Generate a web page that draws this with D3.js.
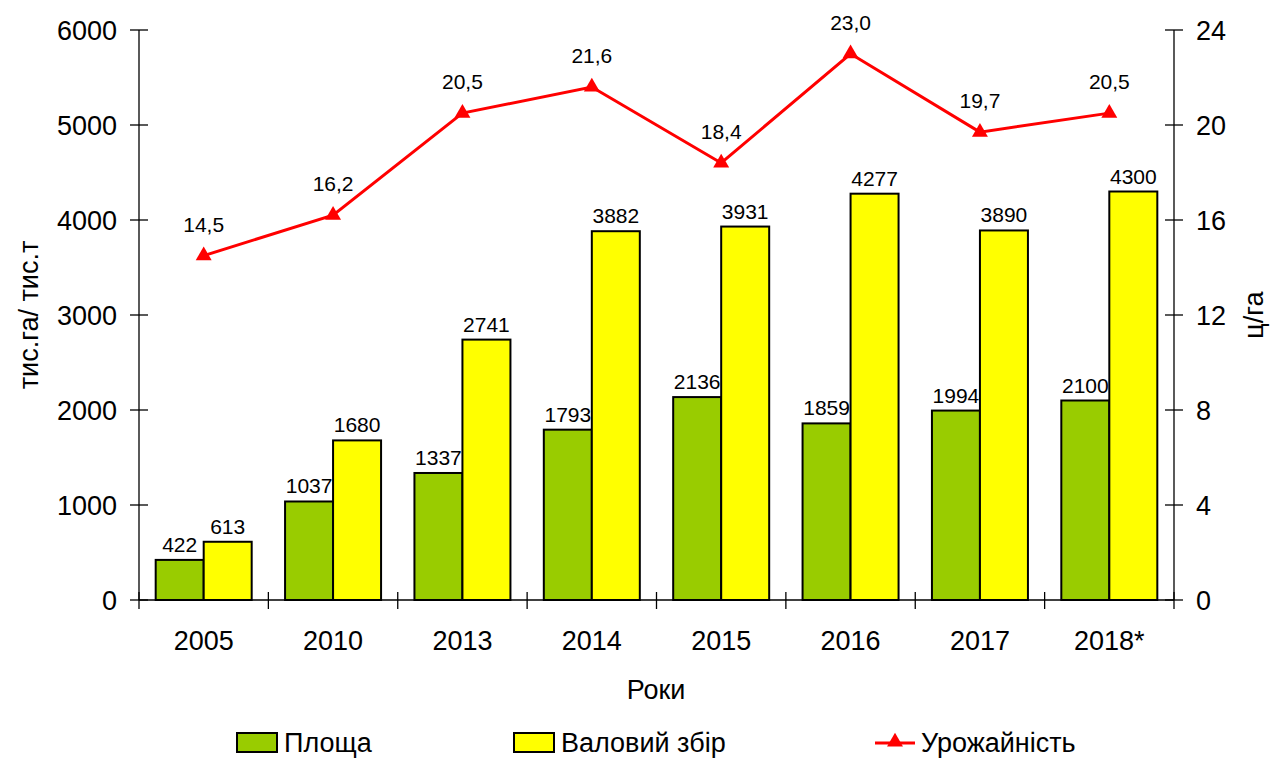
<!DOCTYPE html>
<html>
<head>
<meta charset="utf-8">
<script src="https://cdn.jsdelivr.net/npm/d3@7"></script>
<style>
  body { margin: 0; background: #fff; }
  text { font-family: Arial, "Liberation Sans", sans-serif; fill: #000; }
</style>
</head>
<body>
<div id="chart"></div>
<script>
var years = ['2005', '2010', '2013', '2014', '2015', '2016', '2017', '2018*'];
var area = [422, 1037, 1337, 1793, 2136, 1859, 1994, 2100];
var harvest = [613, 1680, 2741, 3882, 3931, 4277, 3890, 4300];
var yieldVals = [14.5, 16.2, 20.5, 21.6, 18.4, 23.0, 19.7, 20.5];
var leftTicks = [0, 1000, 2000, 3000, 4000, 5000, 6000];
var rightTicks = [0, 4, 8, 12, 16, 20, 24];

var width = 1271, height = 758;
var x0 = 139, x1 = 1174, yTop = 30, yBot = 600;
var green = '#99CC00', yellow = '#FFFF00', red = '#FF0000';

var svg = d3.select('#chart').append('svg')
    .attr('width', width).attr('height', height);

var x = d3.scaleBand().domain(years).range([x0, x1]);
var inner = d3.scaleBand().domain(['a', 'h']).range([0, 96]);
var padIn = (x.bandwidth() - 96) / 2;
var yL = d3.scaleLinear().domain([0, 6000]).range([yBot, yTop]);
var yR = d3.scaleLinear().domain([0, 24]).range([yBot, yTop]);

var fmt = function (v) { return d3.format('.1f')(v).replace('.', ','); };

// bars
var groups = svg.append('g').selectAll('g.year')
    .data(years)
    .enter().append('g')
    .attr('class', 'year')
    .attr('transform', function (d) { return 'translate(' + (x(d) + padIn) + ',0)'; });

groups.append('rect')
    .attr('x', inner('a'))
    .attr('y', function (d, i) { return yL(area[i]); })
    .attr('width', inner.bandwidth())
    .attr('height', function (d, i) { return yBot - yL(area[i]); })
    .style('fill', green).style('stroke', '#000').style('stroke-width', 2);

groups.append('rect')
    .attr('x', inner('h'))
    .attr('y', function (d, i) { return yL(harvest[i]); })
    .attr('width', inner.bandwidth())
    .attr('height', function (d, i) { return yBot - yL(harvest[i]); })
    .style('fill', yellow).style('stroke', '#000').style('stroke-width', 2);

groups.append('text')
    .attr('x', inner('a') + inner.bandwidth() / 2)
    .attr('y', function (d, i) { return yL(area[i]) - 8; })
    .style('text-anchor', 'middle').style('font-size', '21px')
    .text(function (d, i) { return area[i]; });

groups.append('text')
    .attr('x', inner('h') + inner.bandwidth() / 2)
    .attr('y', function (d, i) { return yL(harvest[i]) - 8; })
    .style('text-anchor', 'middle').style('font-size', '21px')
    .text(function (d, i) { return harvest[i]; });

// axes
var axisG = svg.append('g').style('stroke', '#000').style('stroke-width', 1.3);
axisG.append('line').attr('x1', x0).attr('x2', x0).attr('y1', yTop).attr('y2', yBot);
axisG.append('line').attr('x1', x1).attr('x2', x1).attr('y1', yTop).attr('y2', yBot);
axisG.append('line').attr('x1', x0).attr('x2', x1).attr('y1', yBot).attr('y2', yBot);

axisG.selectAll('line.lt').data(leftTicks).enter().append('line')
    .attr('x1', x0 - 9).attr('x2', x0 + 9)
    .attr('y1', function (d) { return yL(d); }).attr('y2', function (d) { return yL(d); });
axisG.selectAll('line.rt').data(rightTicks).enter().append('line')
    .attr('x1', x1 - 9).attr('x2', x1 + 9)
    .attr('y1', function (d) { return yR(d); }).attr('y2', function (d) { return yR(d); });
var catEdges = years.map(function (d) { return x(d); }).concat([x1]);
axisG.selectAll('line.ct').data(catEdges).enter().append('line')
    .attr('x1', function (d) { return d; }).attr('x2', function (d) { return d; })
    .attr('y1', yBot - 8).attr('y2', yBot + 9);

svg.append('g').selectAll('text').data(leftTicks).enter().append('text')
    .attr('x', x0 - 22).attr('y', function (d) { return yL(d); })
    .attr('dy', '0.36em')
    .style('text-anchor', 'end').style('font-size', '27px')
    .text(function (d) { return d; });

svg.append('g').selectAll('text').data(rightTicks).enter().append('text')
    .attr('x', x1 + 22).attr('y', function (d) { return yR(d); })
    .attr('dy', '0.36em')
    .style('text-anchor', 'start').style('font-size', '27px')
    .text(function (d) { return d; });

svg.append('g').selectAll('text').data(years).enter().append('text')
    .attr('x', function (d) { return x(d) + x.bandwidth() / 2; })
    .attr('y', 650)
    .style('text-anchor', 'middle').style('font-size', '27px')
    .text(function (d) { return d; });

svg.append('text').attr('x', 656).attr('y', 699)
    .style('text-anchor', 'middle').style('font-size', '27px').text('Роки');

svg.append('text')
    .attr('transform', 'translate(38,315) rotate(-90)')
    .style('text-anchor', 'middle').style('font-size', '27px').text('тис.га/ тис.т');
svg.append('text')
    .attr('transform', 'translate(1263,315) rotate(-90)')
    .style('text-anchor', 'middle').style('font-size', '27px').text('ц/га');

// yield line
var line = d3.line()
    .x(function (d, i) { return x(years[i]) + x.bandwidth() / 2; })
    .y(function (d) { return yR(d); });
svg.append('path').datum(yieldVals)
    .attr('d', line)
    .style('fill', 'none').style('stroke', red).style('stroke-width', 3);

var tri = d3.symbol().type(d3.symbolTriangle).size(110);
svg.append('g').selectAll('path').data(yieldVals).enter().append('path')
    .attr('d', tri)
    .attr('transform', function (d, i) {
        return 'translate(' + (x(years[i]) + x.bandwidth() / 2) + ',' + yR(d) + ')';
    })
    .style('fill', red);

svg.append('g').selectAll('text').data(yieldVals).enter().append('text')
    .attr('x', function (d, i) { return x(years[i]) + x.bandwidth() / 2; })
    .attr('y', function (d) { return yR(d) - 24; })
    .style('text-anchor', 'middle').style('font-size', '21px')
    .text(function (d) { return fmt(d); });

// legend
var lg = svg.append('g');
lg.append('rect').attr('x', 237).attr('y', 733).attr('width', 40).attr('height', 19)
    .style('fill', green).style('stroke', '#000').style('stroke-width', 2);
lg.append('text').attr('x', 284).attr('y', 752).style('font-size', '27px').text('Площа');
lg.append('rect').attr('x', 514).attr('y', 733).attr('width', 40).attr('height', 19)
    .style('fill', yellow).style('stroke', '#000').style('stroke-width', 2);
lg.append('text').attr('x', 561).attr('y', 752).style('font-size', '27px').text('Валовий збір');
lg.append('line').attr('x1', 875).attr('x2', 915).attr('y1', 743).attr('y2', 743)
    .style('stroke', red).style('stroke-width', 3);
lg.append('path').attr('d', tri).attr('transform', 'translate(895,742)').style('fill', red);
lg.append('text').attr('x', 921).attr('y', 752).style('font-size', '27px').text('Урожайність');
</script>
</body>
</html>
